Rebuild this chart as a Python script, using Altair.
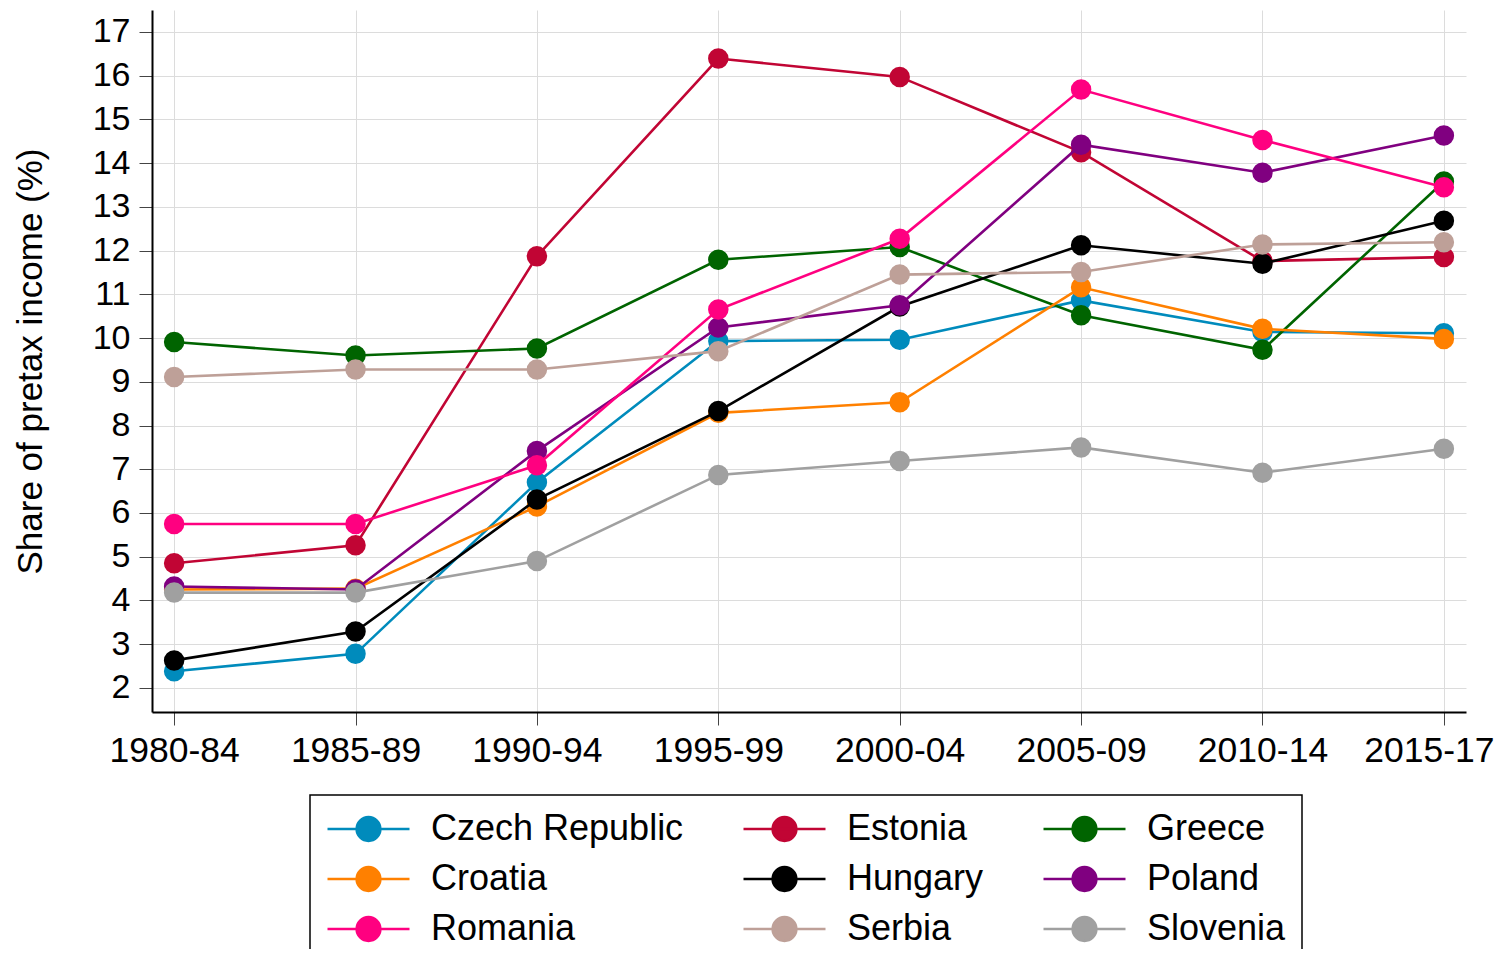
import altair as alt
import pandas as pd

periods = ["1980-84", "1985-89", "1990-94", "1995-99", "2000-04", "2005-09", "2010-14", "2015-17"]
# drawing order (later series drawn on top)
countries = ["Czech Republic", "Estonia", "Greece", "Croatia", "Hungary", "Poland", "Romania", "Serbia", "Slovenia"]
colors = ["#008bbc", "#c10534", "#006400", "#ff8000", "#000000", "#800080", "#ff0080", "#bea098", "#a0a0a0"]
# legend order (filled column by column)
legend_order = ["Czech Republic", "Croatia", "Romania", "Estonia", "Hungary", "Serbia", "Greece", "Poland", "Slovenia"]

czech = [2.38, 2.78, 6.70, 9.93, 9.96, 10.86, 10.14, 10.11]
estonia = [4.85, 5.26, 11.87, 16.39, 15.97, 14.25, 11.76, 11.85]
greece = [9.91, 9.60, 9.76, 11.79, 12.08, 10.52, 9.73, 13.58]
croatia = [4.25, 4.27, 6.15, 8.29, 8.53, 11.16, 10.21, 9.98]
hungary = [2.63, 3.29, 6.31, 8.33, 10.72, 12.12, 11.70, 12.68]
poland = [4.32, 4.25, 7.42, 10.24, 10.75, 14.42, 13.78, 14.63]
romania = [5.75, 5.75, 7.09, 10.65, 12.27, 15.68, 14.53, 13.45]
serbia = [9.11, 9.28, 9.28, 9.70, 11.45, 11.51, 12.14, 12.19]
slovenia = [4.18, 4.18, 4.90, 6.87, 7.19, 7.50, 6.92, 7.47]

series = [czech, estonia, greece, croatia, hungary, poland, romania, serbia, slovenia]
color_of = dict(zip(countries, colors))

rows = []
for c, vals in zip(countries, series):
    for p, v in zip(periods, vals):
        rows.append({"period": p, "country": c, "value": v})
df = pd.DataFrame(rows)

FONT = "Liberation Sans"
legend_path = "M-1,0L1,0M0.29,0A0.29,0.29,0,1,1,-0.29,0A0.29,0.29,0,1,1,0.29,0Z"

x_enc = alt.X(
    "period:O",
    sort=periods,
    scale=alt.Scale(type="point", padding=0.122),
    axis=alt.Axis(
        title=None, labelAngle=0, labelFontSize=35.5, labelFont=FONT, labelColor="black",
        labelOffset={"condition": {"test": "datum.label == '2015-17'", "value": -15}, "value": 0},
        tickSize=13, tickColor="#444", labelPadding=8, grid=True, gridColor="#dcdcdc",
        domainColor="black", domainWidth=2,
    ),
)
y_enc = alt.Y(
    "value:Q",
    scale=alt.Scale(domain=[1.45, 17.5], nice=False, zero=False),
    axis=alt.Axis(
        values=list(range(2, 18)), title="Share of pretax income (%)",
        titleFontSize=35, titleFont=FONT, titleFontWeight="normal", titleColor="black",
        titleX=-122, titleY=351, titleAngle=-90, titleAlign="center", titleBaseline="middle",
        labelFontSize=34, labelFont=FONT, labelColor="black", labelPadding=9,
        tickSize=13, tickColor="#444", grid=True, gridColor="#dcdcdc",
        domainColor="black", domainWidth=2,
    ),
)
color_enc = alt.Color(
    "country:N",
    scale=alt.Scale(domain=legend_order, range=[color_of[c] for c in legend_order]),
    sort=legend_order,
    legend=alt.Legend(
        title=None, orient="none", legendX=158, legendY=785, columns=3,
        symbolType=legend_path, symbolSize=6724, symbolStrokeWidth=2.5,
        labelFontSize=36, labelFont=FONT, labelColor="black", labelOffset=20, labelLimit=500,
        clipHeight=36, columnPadding=58, rowPadding=14, padding=16, strokeColor="black",
    ),
)

layers = []
for c in countries:
    base = alt.Chart(df).transform_filter(alt.datum.country == c)
    line = base.mark_line(strokeWidth=2.6).encode(x=x_enc, y=y_enc, color=color_enc)
    pts = base.mark_point(filled=True, size=420, opacity=1).encode(x=x_enc, y=y_enc, color=color_enc)
    layers.extend([line, pts])

chart = alt.layer(*layers).properties(
    width=1314,
    height=702,
    autosize=alt.AutoSizeParams(type="none"),
    padding={"left": 144, "top": 2, "right": 31, "bottom": 237},
).configure_view(stroke=None).configure_legend(strokeWidth=1.5)

chart.save("out.html", embed_options={"renderer": "svg", "actions": False})
